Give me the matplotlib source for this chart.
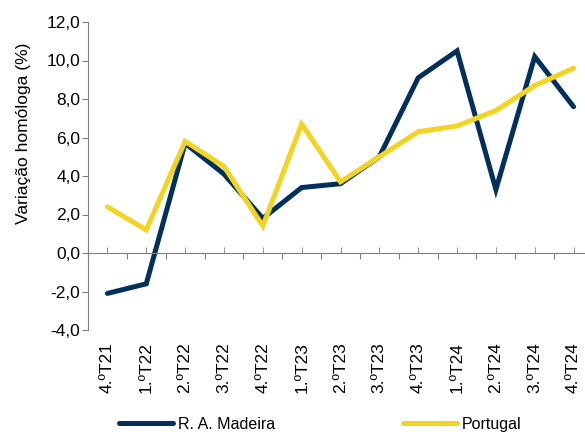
import matplotlib.pyplot as plt
from matplotlib.transforms import blended_transform_factory

plt.rcParams['font.family'] = ['Liberation Sans', 'DejaVu Sans']

# Data
quarters = ["4.ºT21", "1.ºT22", "2.ºT22", "3.ºT22", "4.ºT22", "1.ºT23", "2.ºT23",
            "3.ºT23", "4.ºT23", "1.ºT24", "2.ºT24", "3.ºT24", "4.ºT24"]
madeira = [-2.1, -1.6, 5.7, 4.1, 1.8, 3.4, 3.6, 5.0, 9.1, 10.5, 3.3, 10.2, 7.6]
portugal = [2.4, 1.2, 5.8, 4.5, 1.4, 6.7, 3.7, 5.0, 6.3, 6.6, 7.4, 8.7, 9.6]
y_ticks = [-4, -2, 0, 2, 4, 6, 8, 10, 12]

NAVY = "#022F5B"
YELLOW = "#F3D423"
AXIS = "#7F7F7F"

fig = plt.figure(figsize=(5.85, 4.32), dpi=100)
ax = fig.add_axes([88 / 585, 102 / 432, 505 / 585, 308 / 432])

x = list(range(len(quarters)))
ax.plot(x, madeira, color=NAVY, lw=3.6, solid_joinstyle="miter",
        solid_capstyle="round", label="R. A. Madeira")
ax.plot(x, portugal, color=YELLOW, lw=3.6, solid_joinstyle="miter",
        solid_capstyle="round", label="Portugal")

ax.set_xlim(-0.5, len(quarters) - 0.5)
ax.set_ylim(-4, 12)

# y axis
ax.set_yticks(y_ticks)
ax.set_yticklabels([f"{v:.1f}".replace(".", ",") for v in y_ticks], fontsize=12.5)
ax.set_ylabel("Variação homóloga (%)", fontsize=12.5)
ax.yaxis.set_label_coords(-0.113, 0.64)

# category axis drawn at zero
for s in ["top", "right"]:
    ax.spines[s].set_visible(False)
ax.spines["bottom"].set_position(("data", 0))
ax.spines["bottom"].set_color(AXIS)
ax.spines["left"].set_color(AXIS)
ax.set_xticks([i - 0.5 for i in x] + [len(x) - 0.5])
ax.set_xticks(x, minor=True)
ax.tick_params(axis="x", which="major", direction="out", length=4, color=AXIS,
               labelbottom=False)
ax.tick_params(axis="x", which="minor", direction="in", length=4, color=AXIS,
               labelbottom=False)
ax.tick_params(axis="y", direction="out", length=4, color=AXIS, pad=1.5)

trans = blended_transform_factory(ax.transData, ax.transAxes)
for i, q in enumerate(quarters):
    ax.text(i, -12 / 308, q, rotation=90, ha="center", va="top",
            fontsize=12.5, transform=trans)

fig.legend(loc="center", bbox_to_anchor=(0.547, 0.018), ncol=2, frameon=False,
           fontsize=11.5, handlelength=3.4, columnspacing=8.0, handletextpad=0.3)

fig.savefig("out.png", dpi=100)
